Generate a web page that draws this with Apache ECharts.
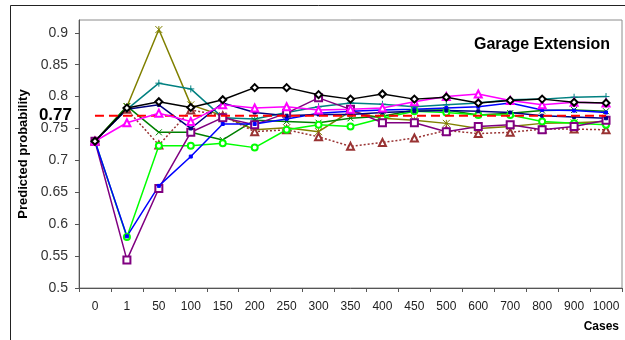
<!DOCTYPE html>
<html><head><meta charset="utf-8">
<script src="https://cdn.jsdelivr.net/npm/echarts@6/dist/echarts.min.js"></script>
<style>html,body{margin:0;padding:0;background:#fff}#c{width:625px;height:340px}</style>
</head><body><div id="c"></div>
<script>
var categories = ['0','1','50','100','150','200','250','300','350','400','450','500','600','700','800','900','1000'];
var yTicks = [0.5,0.55,0.6,0.65,0.7,0.75,0.8,0.85,0.9];
var threshold = 0.77;
var olive   = [0.73,0.784,0.905,0.787,0.770,0.748,0.751,0.745,0.777,0.766,0.763,0.758,0.750,0.753,0.758,0.759,0.761];
var teal    = [0.73,0.780,0.821,0.812,0.767,0.765,0.775,0.784,0.790,0.788,0.784,0.787,0.790,0.795,0.796,0.799,0.800];
var black   = [0.73,0.782,0.792,0.783,0.795,0.814,0.814,0.803,0.796,0.804,0.796,0.799,0.790,0.794,0.796,0.791,0.790];
var navy    = [0.73,0.780,0.787,0.750,0.790,0.775,0.770,0.772,0.772,0.775,0.777,0.778,0.777,0.775,0.770,0.768,0.766];
var magenta = [0.73,0.759,0.774,0.761,0.787,0.782,0.784,0.779,0.780,0.782,0.792,0.800,0.804,0.794,0.787,0.791,0.790];
var brown   = [0.73,0.780,0.724,0.779,0.770,0.745,0.748,0.737,0.722,0.728,0.735,0.747,0.742,0.744,0.749,0.749,0.748];
var green   = [0.73,0.785,0.744,0.744,0.732,0.763,0.761,0.759,0.766,0.769,0.779,0.779,0.771,0.774,0.778,0.779,0.777];
var lime    = [0.73,0.580,0.723,0.723,0.727,0.720,0.748,0.756,0.753,0.766,0.777,0.775,0.771,0.771,0.761,0.758,0.756];
var blue    = [0.73,0.581,0.660,0.706,0.757,0.757,0.765,0.774,0.777,0.779,0.780,0.782,0.784,0.790,0.779,0.778,0.775];
var purple  = [0.73,0.544,0.656,0.744,0.767,0.756,0.774,0.798,0.780,0.759,0.759,0.745,0.753,0.756,0.748,0.753,0.763];

var FONT = 'Liberation Sans, Arial, sans-serif';
var XPATH = 'path://M0,0L10,10M10,0L0,10';
var PLUS = 'path://M5,0L5,10M0,5L10,5';
var STAR = 'path://M0,0L10,10M10,0L0,10M5,0L5,10';

function ser(name, data, color, symbol, size, opts) {
  opts = opts || {};
  var stroked = symbol.indexOf('path://') === 0;
  return {
    name: name, type: 'line', data: data, symbol: symbol, symbolSize: size,
    showSymbol: true, z: opts.z || 2,
    lineStyle: { color: color, width: 1.5, type: opts.lineType || 'solid' },
    itemStyle: stroked ? { color: 'none', borderColor: color, borderWidth: 1 } : { color: opts.fill || color, borderColor: color, borderWidth: 1 },
    emphasis: { disabled: true }, animation: false
  };
}

var chart = echarts.init(document.getElementById('c'), null, { renderer: 'canvas' });
var thrData = categories.map(function () { return threshold; });
chart.setOption({
  animation: false,
  textStyle: { fontFamily: FONT },
  title: { text: 'Garage Extension', right: 10, top: 32, textStyle: { fontFamily: FONT, fontWeight: 'bold', fontSize: 16, color: '#000' } },
  grid: { left: 79, right: 3, top: 20, bottom: 52, show: true, borderColor: '#8c8c8c', borderWidth: 1, backgroundColor: '#fff' },
  xAxis: {
    type: 'category', data: categories, boundaryGap: true,
    axisLine: { lineStyle: { color: '#555', width: 1 } },
    axisTick: { show: true, inside: false, length: 4, alignWithLabel: false, lineStyle: { color: '#555' } },
    axisLabel: { fontSize: 12, color: '#222', margin: 13, fontFamily: FONT, interval: 0 },
    splitLine: { show: false }
  },
  yAxis: [{
    type: 'value', min: 0.5, max: 0.92, interval: 0.05,
    name: 'Predicted probability', nameLocation: 'middle', nameGap: 42, nameRotate: 90,
    nameTextStyle: { fontFamily: FONT, fontWeight: 'bold', fontSize: 13, color: '#000' },
    axisLine: { show: true, lineStyle: { color: '#555', width: 1 } },
    axisTick: { show: true, length: 4, customValues: yTicks, lineStyle: { color: '#555' } },
    axisLabel: { fontSize: 14, color: '#333', margin: 11, fontFamily: FONT, customValues: yTicks },
    splitLine: { show: false }
  }, {
    type: 'value', min: 0.5, max: 0.92, position: 'left',
    axisLine: { show: false }, axisTick: { show: false }, splitLine: { show: false },
    axisLabel: { fontSize: 17, fontWeight: 'bold', color: '#000', margin: 7, fontFamily: FONT, customValues: [threshold], formatter: function (v) { return v.toFixed(2); } }
  }],
  graphic: [
    { type: 'rect', shape: { x: 10.5, y: 5.5, width: 700, height: 400 }, style: { fill: 'none', stroke: '#222', lineWidth: 1 }, silent: true, z: -10 },
    { type: 'text', right: 6, top: 321, style: { text: 'Cases', font: 'bold 12px ' + FONT, fill: '#000' } }
  ],
  series: [
    ser('olive', olive, '#808000', STAR, 7),
    ser('teal', teal, '#008080', PLUS, 7),
    ser('green', green, '#008000', XPATH, 6),
    ser('brown', brown, '#993333', 'emptyTriangle', 7, { lineType: [2, 2] }),
    ser('lime', lime, '#00FF00', 'emptyCircle', 6),
    ser('purple', purple, '#800080', 'emptyRect', 7),
    ser('blue', blue, '#0000FF', 'rect', 3),
    ser('navy', navy, '#000080', 'rect', 3),
    {
      name: 'threshold', type: 'line', data: thrData, symbol: 'none', z: 3,
      lineStyle: { color: '#FF0000', width: 2, type: [9, 5] }, emphasis: { disabled: true }, animation: false
    },
    ser('magenta', magenta, '#FF00FF', 'emptyTriangle', 7, { z: 4 }),
    ser('black', black, '#000000', 'emptyDiamond', 7, { z: 4 })
  ]
});
</script></body></html>
